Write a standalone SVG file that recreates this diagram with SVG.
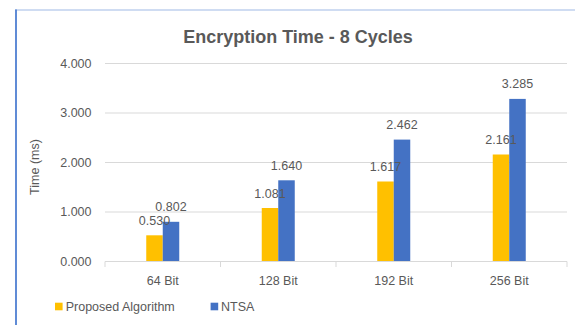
<svg xmlns="http://www.w3.org/2000/svg" width="575" height="325" viewBox="0 0 575 325">
<style>
text{font-family:"Liberation Sans",Arial,sans-serif;fill:#595959;font-size:12.5px}
.title{font-size:18px;font-weight:bold}
.grid{stroke:#D9D9D9;stroke-width:1}
.ya{text-anchor:end}
.mid{text-anchor:middle}
.y{fill:#FFC000}
.b{fill:#4472C4}
</style>
<rect x="0" y="0" width="575" height="325" fill="#FFFFFF"/>
<g id="frame">
<line x1="15" y1="10" x2="575" y2="10" stroke="#BFD0EE" stroke-width="1.6"/>
<line x1="16" y1="9.5" x2="16" y2="325" stroke="#4F7FD2" stroke-width="1.8"/>
</g>
<text id="title" class="title mid" x="298" y="43">Encryption Time - 8 Cycles</text>
<g id="grid">
<line class="grid" x1="105" y1="63.5" x2="567" y2="63.5"/>
<line class="grid" x1="105" y1="113" x2="567" y2="113"/>
<line class="grid" x1="105" y1="162.5" x2="567" y2="162.5"/>
<line class="grid" x1="105" y1="212" x2="567" y2="212"/>
</g>
<g id="y-axis">
<text class="ya" x="91.5" y="67.8">4.000</text>
<text class="ya" x="91.5" y="117.3">3.000</text>
<text class="ya" x="91.5" y="166.8">2.000</text>
<text class="ya" x="91.5" y="216.3">1.000</text>
<text class="ya" x="91.5" y="265.8">0.000</text>
<text class="mid" transform="translate(38.5,167) rotate(-90)" font-size="13">Time (ms)</text>
</g>
<g id="bars">
<rect class="y" x="146.25" y="235.3" width="16.5" height="26.2"/>
<rect class="b" x="162.75" y="221.8" width="16.5" height="39.7"/>
<rect class="y" x="261.75" y="208" width="16.5" height="53.5"/>
<rect class="b" x="278.25" y="180.3" width="16.5" height="81.2"/>
<rect class="y" x="377.25" y="181.5" width="16.5" height="80"/>
<rect class="b" x="393.75" y="139.6" width="16.5" height="121.9"/>
<rect class="y" x="492.75" y="154.5" width="16.5" height="107"/>
<rect class="b" x="509.25" y="98.9" width="16.5" height="162.6"/>
</g>
<g id="data-labels">
<text class="mid" x="154.5" y="225">0.530</text>
<text class="mid" x="171" y="211">0.802</text>
<text class="mid" x="270" y="197.5">1.081</text>
<text class="mid" x="286.5" y="169.5">1.640</text>
<text class="mid" x="385.5" y="170.5">1.617</text>
<text class="mid" x="402" y="128.8">2.462</text>
<text class="mid" x="501" y="143.8">2.161</text>
<text class="mid" x="517.5" y="88">3.285</text>
</g>
<g id="x-axis">
<line x1="105" y1="261.5" x2="567" y2="261.5" stroke="#D9D9D9" stroke-width="1"/>
<line x1="105" y1="261.5" x2="105" y2="267" stroke="#D9D9D9"/>
<line x1="220.5" y1="261.5" x2="220.5" y2="267" stroke="#D9D9D9"/>
<line x1="336" y1="261.5" x2="336" y2="267" stroke="#D9D9D9"/>
<line x1="451.5" y1="261.5" x2="451.5" y2="267" stroke="#D9D9D9"/>
<line x1="567" y1="261.5" x2="567" y2="267" stroke="#D9D9D9"/>
<text class="mid" x="162.75" y="284.5">64 Bit</text>
<text class="mid" x="278.25" y="284.5">128 Bit</text>
<text class="mid" x="393.75" y="284.5">192 Bit</text>
<text class="mid" x="509.25" y="284.5">256 Bit</text>
</g>
<g id="legend">
<rect class="y" x="55" y="302.7" width="7.6" height="7.6"/>
<text x="65.7" y="311">Proposed Algorithm</text>
<rect class="b" x="210.6" y="302.7" width="7.6" height="7.6"/>
<text x="221" y="311">NTSA</text>
</g>
</svg>
